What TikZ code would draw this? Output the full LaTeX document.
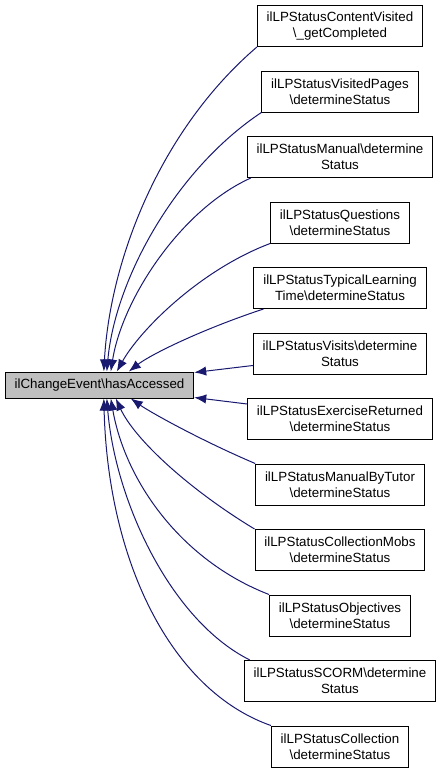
\documentclass[tikz,border=0pt]{standalone}
\usepackage{fontspec}
\setmainfont{Liberation Sans}
\usetikzlibrary{arrows.meta,calc}
\definecolor{edgeblue}{HTML}{191970}
\definecolor{maingray}{HTML}{BFBFBF}
\tikzset{
  cls/.style={draw=black, line width=0.75pt, fill=white, align=center, inner xsep=7pt, inner ysep=2pt,
    minimum height=30.75pt, font=\fontsize{10}{12}\selectfont},
  mainbox/.style={cls, fill=maingray, minimum height=19.5pt},
  edge/.style={draw=edgeblue, line width=0.75pt, -{Latex[length=9pt,width=7pt]}}
}
\newcommand{\bs}{\textbackslash}
\begin{document}
\begin{tikzpicture}[x=0.75pt,y=-0.75pt]
\useasboundingbox (0,0) rectangle (443,771);
\node[mainbox] (main) at (99.5,385) {ilChangeEvent\bs hasAccessed};
\node[cls] (cv)  at (340,26)    {ilLPStatusContentVisited\\\bs\_getCompleted};
\node[cls] (vp)  at (340,91.5)  {ilLPStatusVisitedPages\\\bs determineStatus};
\node[cls] (man) at (340,157)   {ilLPStatusManual\bs determine\\Status};
\node[cls] (q)   at (340,222.5) {ilLPStatusQuestions\\\bs determineStatus};
\node[cls] (tlt) at (340,288)   {ilLPStatusTypicalLearning\\Time\bs determineStatus};
\node[cls] (vis) at (340,353.5) {ilLPStatusVisits\bs determine\\Status};
\node[cls] (exr) at (340,419)   {ilLPStatusExerciseReturned\\\bs determineStatus};
\node[cls] (mbt) at (340,484.5) {ilLPStatusManualByTutor\\\bs determineStatus};
\node[cls] (cm)  at (340,550)   {ilLPStatusCollectionMobs\\\bs determineStatus};
\node[cls] (obj) at (340,615.5) {ilLPStatusObjectives\\\bs determineStatus};
\node[cls] (sc)  at (340,681)   {ilLPStatusSCORM\bs determine\\Status};
\node[cls] (col) at (340,746.5) {ilLPStatusCollection\\\bs determineStatus};
% arrow end points on the main node
\coordinate (t1) at ($(main.north west)+(99,0)$);
\coordinate (t2) at ($(main.north west)+(102,0)$);
\coordinate (t3) at ($(main.north west)+(106,0)$);
\coordinate (t4) at ($(main.north west)+(112,0)$);
\coordinate (t5) at ($(main.north west)+(124,0)$);
\coordinate (r1) at ($(main.north east)+(0,1)$);
\coordinate (r2) at ($(main.south east)+(0,-1)$);
\coordinate (b1) at ($(main.south west)+(126,0)$);
\coordinate (b2) at ($(main.south west)+(111,0)$);
\coordinate (b3) at ($(main.south west)+(106,0)$);
\coordinate (b4) at ($(main.south west)+(102,0)$);
\coordinate (b5) at ($(main.south west)+(99,0)$);
% edges
\draw[edge] (cv.south west) .. controls (160,130) and (110,260) .. (t1);
\draw[edge] (vp.south west) .. controls (175,170) and (115,280) .. (t2);
\draw[edge] ($(man.south west)+(4,0)$) .. controls (180,210) and (122,300) .. (t3);
\draw[edge] (q.south west) .. controls (200,270) and (140,330) .. (t4);
\draw[edge] ($(tlt.south west)+(10,0)$) .. controls (200,330) and (150,355) .. (t5);
\draw[edge] ($(vis.west)+(0,12)$) -- (r1);
\draw[edge] ($(exr.west)+(0,-15)$) -- (r2);
\draw[edge] (mbt.north west) .. controls (200,440) and (150,412) .. (b1);
\draw[edge] (cm.north west) .. controls (190,490) and (135,440) .. (b2);
\draw[edge] (obj.north west) .. controls (180,560) and (125,480) .. (b3);
\draw[edge] ($(sc.north west)+(6,0)$) .. controls (170,620) and (115,500) .. (b4);
\draw[edge] (col.north west) .. controls (170,690) and (108,560) .. (b5);
\end{tikzpicture}
\end{document}
